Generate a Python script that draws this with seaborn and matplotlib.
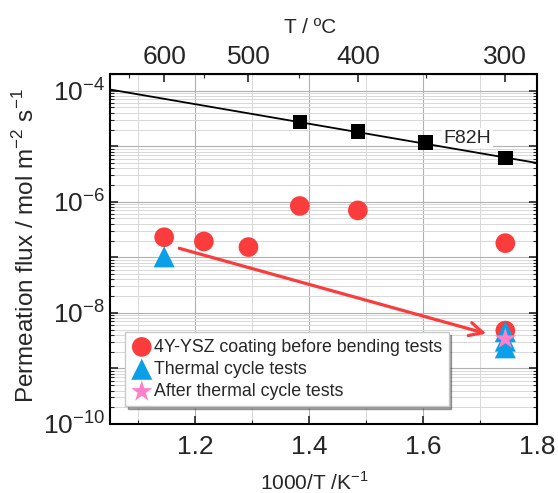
import numpy as np
import pandas as pd
import seaborn as sns
from matplotlib import pyplot as plt
from matplotlib.ticker import FixedLocator, LogLocator, NullFormatter

sns.set_style("ticks")
plt.rcParams["font.family"] = ["Liberation Sans", "DejaVu Sans"]
plt.rcParams["mathtext.fontset"] = "custom"
plt.rcParams["mathtext.rm"] = "Liberation Sans"

# -----------------------------------------------------------------
# データ
# -----------------------------------------------------------------
# F82H (実測値とフィット直線)
f82h_x = [1.3836, 1.4856, 1.6048, 1.7447]
f82h_y = [2.73e-5, 1.85e-5, 1.16e-5, 6.1e-6]
fit_x = [1.05, 1.80]
fit_y = [1.05e-4, 5.0e-6]

# 4Y-YSZ coating before bending tests
ysz_x = [1.1453, 1.2151, 1.2934, 1.3836, 1.4856, 1.7447, 1.7447]
ysz_y = [2.3e-7, 1.93e-7, 1.53e-7, 8.4e-7, 7.0e-7, 1.8e-7, 4.8e-9]

# Thermal cycle tests
tc_x = [1.1453, 1.7447, 1.7447, 1.7447]
tc_y = [1.02e-7, 4.6e-9, 3.1e-9, 2.35e-9]

# After thermal cycle tests
after_x = [1.7447]
after_y = [3.4e-9]

# 上軸 (温度)
top_major = [600, 500, 400, 300]
top_minor = [650, 550, 450, 350]

red = "#FA3C3C"
blue = "#0A9FE6"
pink = "#FF80C8"

# -----------------------------------------------------------------
# 描画
# -----------------------------------------------------------------
fig = plt.figure(figsize=(5.58, 4.93), dpi=100)
ax = fig.add_axes([0.197, 0.14, 0.765, 0.71])

sns.lineplot(x=fit_x, y=fit_y, color="black", linewidth=1.3, ax=ax, zorder=3)
sns.scatterplot(x=f82h_x, y=f82h_y, marker="s", s=110, color="black",
                edgecolor="none", ax=ax, zorder=4)
sns.scatterplot(x=ysz_x, y=ysz_y, marker="o", s=200, color=red,
                edgecolor="none", ax=ax, zorder=4,
                label="4Y-YSZ coating before bending tests")
sns.scatterplot(x=tc_x, y=tc_y, marker="^", s=230, color=blue,
                edgecolor="none", ax=ax, zorder=5,
                label="Thermal cycle tests")
sns.scatterplot(x=after_x, y=after_y, marker="*", s=260, color=pink,
                edgecolor="none", ax=ax, zorder=6,
                label="After thermal cycle tests")

# 矢印
ax.annotate("", xy=(1.716, 4.1e-9), xytext=(1.167, 1.5e-7),
            arrowprops=dict(arrowstyle="->", color=red, lw=2.3,
                            mutation_scale=24), zorder=5)

# F82H ラベル
ax.text(1.678, 1.4e-5, "F82H", fontsize=14, ha="center", va="center",
        bbox=dict(facecolor="white", edgecolor="none", pad=1), zorder=2)

# 軸
ax.set_yscale("log")
ax.set_xlim(1.05, 1.8)
ax.set_ylim(1e-10, 2e-4)
ax.set_xticks([1.2, 1.4, 1.6, 1.8])
ax.set_xticks([1.1, 1.3, 1.5, 1.7], minor=True)
ax.xaxis.set_major_formatter(plt.FixedFormatter(["1.2", "1.4", "1.6", "1.8"]))

ax.yaxis.set_major_locator(FixedLocator([10.0 ** k for k in range(-10, -3)]))
ax.yaxis.set_minor_locator(LogLocator(base=10, subs=np.arange(2, 10), numticks=20))
ax.yaxis.set_minor_formatter(NullFormatter())
ylabels = []
for k in range(-10, -3):
    ylabels.append(r"$\mathregular{10^{%d}}$" % k if k % 2 == 0 else "")
ax.yaxis.set_major_formatter(plt.FixedFormatter(ylabels))

ax.tick_params(which="both", direction="in", top=True, right=True, labelsize=19)
ax.tick_params(which="major", length=6, width=1.2)
ax.tick_params(which="minor", length=3, width=0.8)
ax.tick_params(axis="x", which="major", pad=8)
ax.tick_params(axis="x", which="both", top=False)

ax.grid(which="major", color="#B0B0B0", linewidth=0.8)
ax.grid(which="minor", color="#D8D8D8", linewidth=0.7)
ax.set_axisbelow(True)
for sp in ax.spines.values():
    sp.set_linewidth(1.5)
    sp.set_color("black")

ax.set_xlabel(r"1000/T /K$^{\mathregular{-1}}$", fontsize=15, labelpad=9)
ax.xaxis.label.set_x(0.478)
ax.set_ylabel(r"Permeation flux / mol m$^{\mathregular{-2}}$ s$^{\mathregular{-1}}$",
              fontsize=17.5, labelpad=3)
ax.yaxis.label.set_y(0.51)

# 上軸 (温度 °C)
sec = ax.secondary_xaxis("top", functions=(lambda x: 1000 / x - 273.15,
                                           lambda t: 1000 / (t + 273.15)))
sec.set_xticks(top_major)
sec.set_xticks(top_minor, minor=True)
sec.set_xticklabels([str(t) for t in top_major])
sec.tick_params(which="both", direction="in", labelsize=19)
sec.tick_params(which="major", length=6, width=1.2)
sec.tick_params(which="minor", length=3, width=0.8)
sec.set_xlabel("T / ºC", fontsize=15, labelpad=9)
sec.xaxis.label.set_x(0.468)

# 凡例
leg = ax.legend(loc="lower left", bbox_to_anchor=(0.035, 0.05), fontsize=12.8,
                frameon=True, fancybox=False, shadow=True, handletextpad=0.1,
                handlelength=1.2, borderpad=0.35, labelspacing=0.3,
                borderaxespad=0)
leg.get_frame().set_edgecolor("#C8C8C8")
leg.set_zorder(7)

plt.savefig("out.png", dpi=100)
